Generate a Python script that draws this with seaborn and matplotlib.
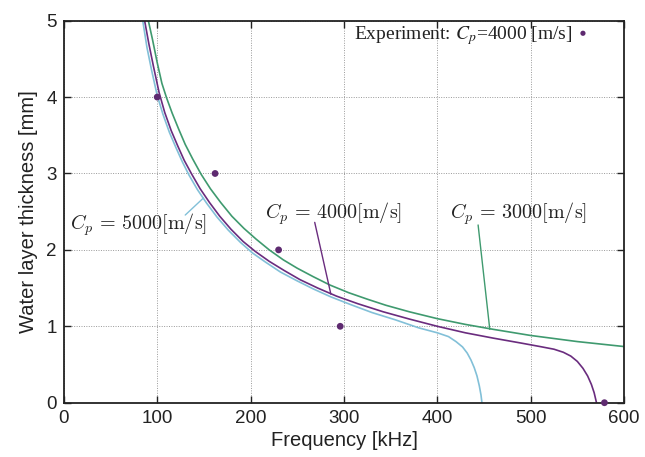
import matplotlib
matplotlib.use("Agg")
import matplotlib.pyplot as plt
import seaborn as sns
import pandas as pd

# ---- data ----
freq_3000 = [86, 90.5, 95, 100, 105, 110, 116, 123, 130, 138, 147, 157, 168, 180, 193,
             206, 220, 235, 250, 267, 285, 305, 325, 345, 370, 400, 430, 460, 500, 550, 600]
h_3000 = [5.30, 5.00, 4.75, 4.45, 4.18, 3.99, 3.79, 3.58, 3.38, 3.19, 2.99, 2.80, 2.62,
          2.44, 2.28, 2.14, 2.00, 1.87, 1.76, 1.65, 1.54, 1.44, 1.355, 1.275, 1.19, 1.10,
          1.025, 0.96, 0.88, 0.80, 0.735]

freq_4000 = [83, 86.5, 91, 96, 102, 108, 115, 122, 129, 137, 146, 156, 167, 179, 192,
             205, 220, 236, 253, 272, 292, 315, 342, 370, 400, 430, 460, 490, 510, 525,
             535, 543, 550, 556, 561, 565, 568, 570.5]
h_4000 = [5.3, 5.0, 4.7, 4.4, 4.06, 3.8, 3.56, 3.36, 3.17, 2.99, 2.80, 2.62, 2.44, 2.27,
          2.11, 1.98, 1.85, 1.73, 1.61, 1.50, 1.395, 1.295, 1.19, 1.095, 1.00, 0.915, 0.845,
          0.78, 0.735, 0.70, 0.66, 0.61, 0.54, 0.45, 0.35, 0.24, 0.13, 0.0]

freq_5000 = [81, 84.5, 89, 94, 100, 106, 113, 120, 127, 134, 143, 153, 164, 176, 189,
             202, 216, 232, 249, 267, 286, 307, 330, 355, 380, 400, 412, 420, 427, 432,
             436, 439.5, 442.5, 445, 446.8, 447.8]
h_5000 = [5.3, 5.0, 4.65, 4.35, 4.02, 3.78, 3.54, 3.34, 3.15, 2.98, 2.79, 2.61, 2.43, 2.26,
          2.10, 1.96, 1.84, 1.71, 1.60, 1.49, 1.385, 1.285, 1.18, 1.085, 0.98, 0.915, 0.865,
          0.80, 0.73, 0.65, 0.56, 0.46, 0.35, 0.22, 0.10, 0.0]

exp_freq = [100, 162, 230, 296, 579]
exp_h = [4, 3, 2, 1, 0]

series_names = ["3000", "4000", "5000"]
colors = {"3000": "#3f9a6f", "4000": "#6a2c7e", "5000": "#82c0d8"}
dot_color = "#5e2a70"

x_ticks = [0, 100, 200, 300, 400, 500, 600]
y_ticks = [0, 1, 2, 3, 4, 5]

# label text, its centre, and leader line (start -> end on curve)
labels = {
    "5000": (r"$C_p\,=\,5000[\mathrm{m/s}]$", (80, 2.33), (130, 2.456), (149.5, 2.679)),
    "4000": (r"$C_p\,=\,4000[\mathrm{m/s}]$", (289, 2.48), (268.7, 2.36), (286, 1.42)),
    "3000": (r"$C_p\,=\,3000[\mathrm{m/s}]$", (487, 2.48), (443.7, 2.326), (456.2, 0.96)),
}

# ---- build long table ----
rows = []
for name, fs, hs in [("3000", freq_3000, h_3000), ("4000", freq_4000, h_4000),
                     ("5000", freq_5000, h_5000)]:
    for i, (f, h) in enumerate(zip(fs, hs)):
        rows.append({"series": name, "idx": i, "freq": f, "h": h})
df = pd.DataFrame(rows)
df_exp = pd.DataFrame({"freq": exp_freq, "h": exp_h})

sns.set_theme(style="ticks")
plt.rcParams["font.family"] = ["Liberation Sans", "DejaVu Sans"]
plt.rcParams["mathtext.fontset"] = "cm"

fig = plt.figure(figsize=(6.45, 4.57), dpi=100)
ax = fig.add_axes([0.099, 0.1188, 0.8685, 0.836])

sns.lineplot(data=df, x="freq", y="h", hue="series", hue_order=series_names,
             palette=colors, sort=False, estimator=None, units="series",
             linewidth=1.2, legend=False, ax=ax)
sns.scatterplot(data=df_exp, x="freq", y="h", color=dot_color, s=24,
                edgecolor="none", ax=ax, clip_on=False, zorder=5)

ax.set_xlim(0, 600)
ax.set_ylim(0, 5)
ax.set_xticks(x_ticks)
ax.set_yticks(y_ticks)
ax.grid(True, linestyle=(0, (1, 1.5)), color="#999999", linewidth=0.7)
ax.tick_params(direction="in", top=True, right=True, length=5, width=1,
               labelsize=13.5, pad=5, colors="#222222", labelcolor="#222222")
for sp in ax.spines.values():
    sp.set_linewidth(1.3)
    sp.set_color("#222222")
ax.set_xlabel("Frequency [kHz]", fontsize=14.5, labelpad=3, color="#222222")
ax.set_ylabel("Water layer thickness [mm]", fontsize=14.5, labelpad=6, color="#222222")

for name, (txt, pos, start, end) in labels.items():
    ax.text(pos[0], pos[1], txt, ha="center", va="center", fontsize=14.5, color="#222222")
    ax.annotate("", xy=end, xytext=start,
                arrowprops=dict(arrowstyle="-", color=colors[name], lw=1.0,
                                shrinkA=0, shrinkB=0))

ax.text(545, 4.80, r"Experiment: $C_p$=4000 [m/s]", ha="right", va="center",
        fontsize=14, family=["Liberation Serif", "DejaVu Serif"],
        math_fontfamily="stix", color="#222222")
ax.scatter([556], [4.835], color=dot_color, s=14, edgecolor="none", zorder=5)

fig.savefig("out.png", dpi=100)
